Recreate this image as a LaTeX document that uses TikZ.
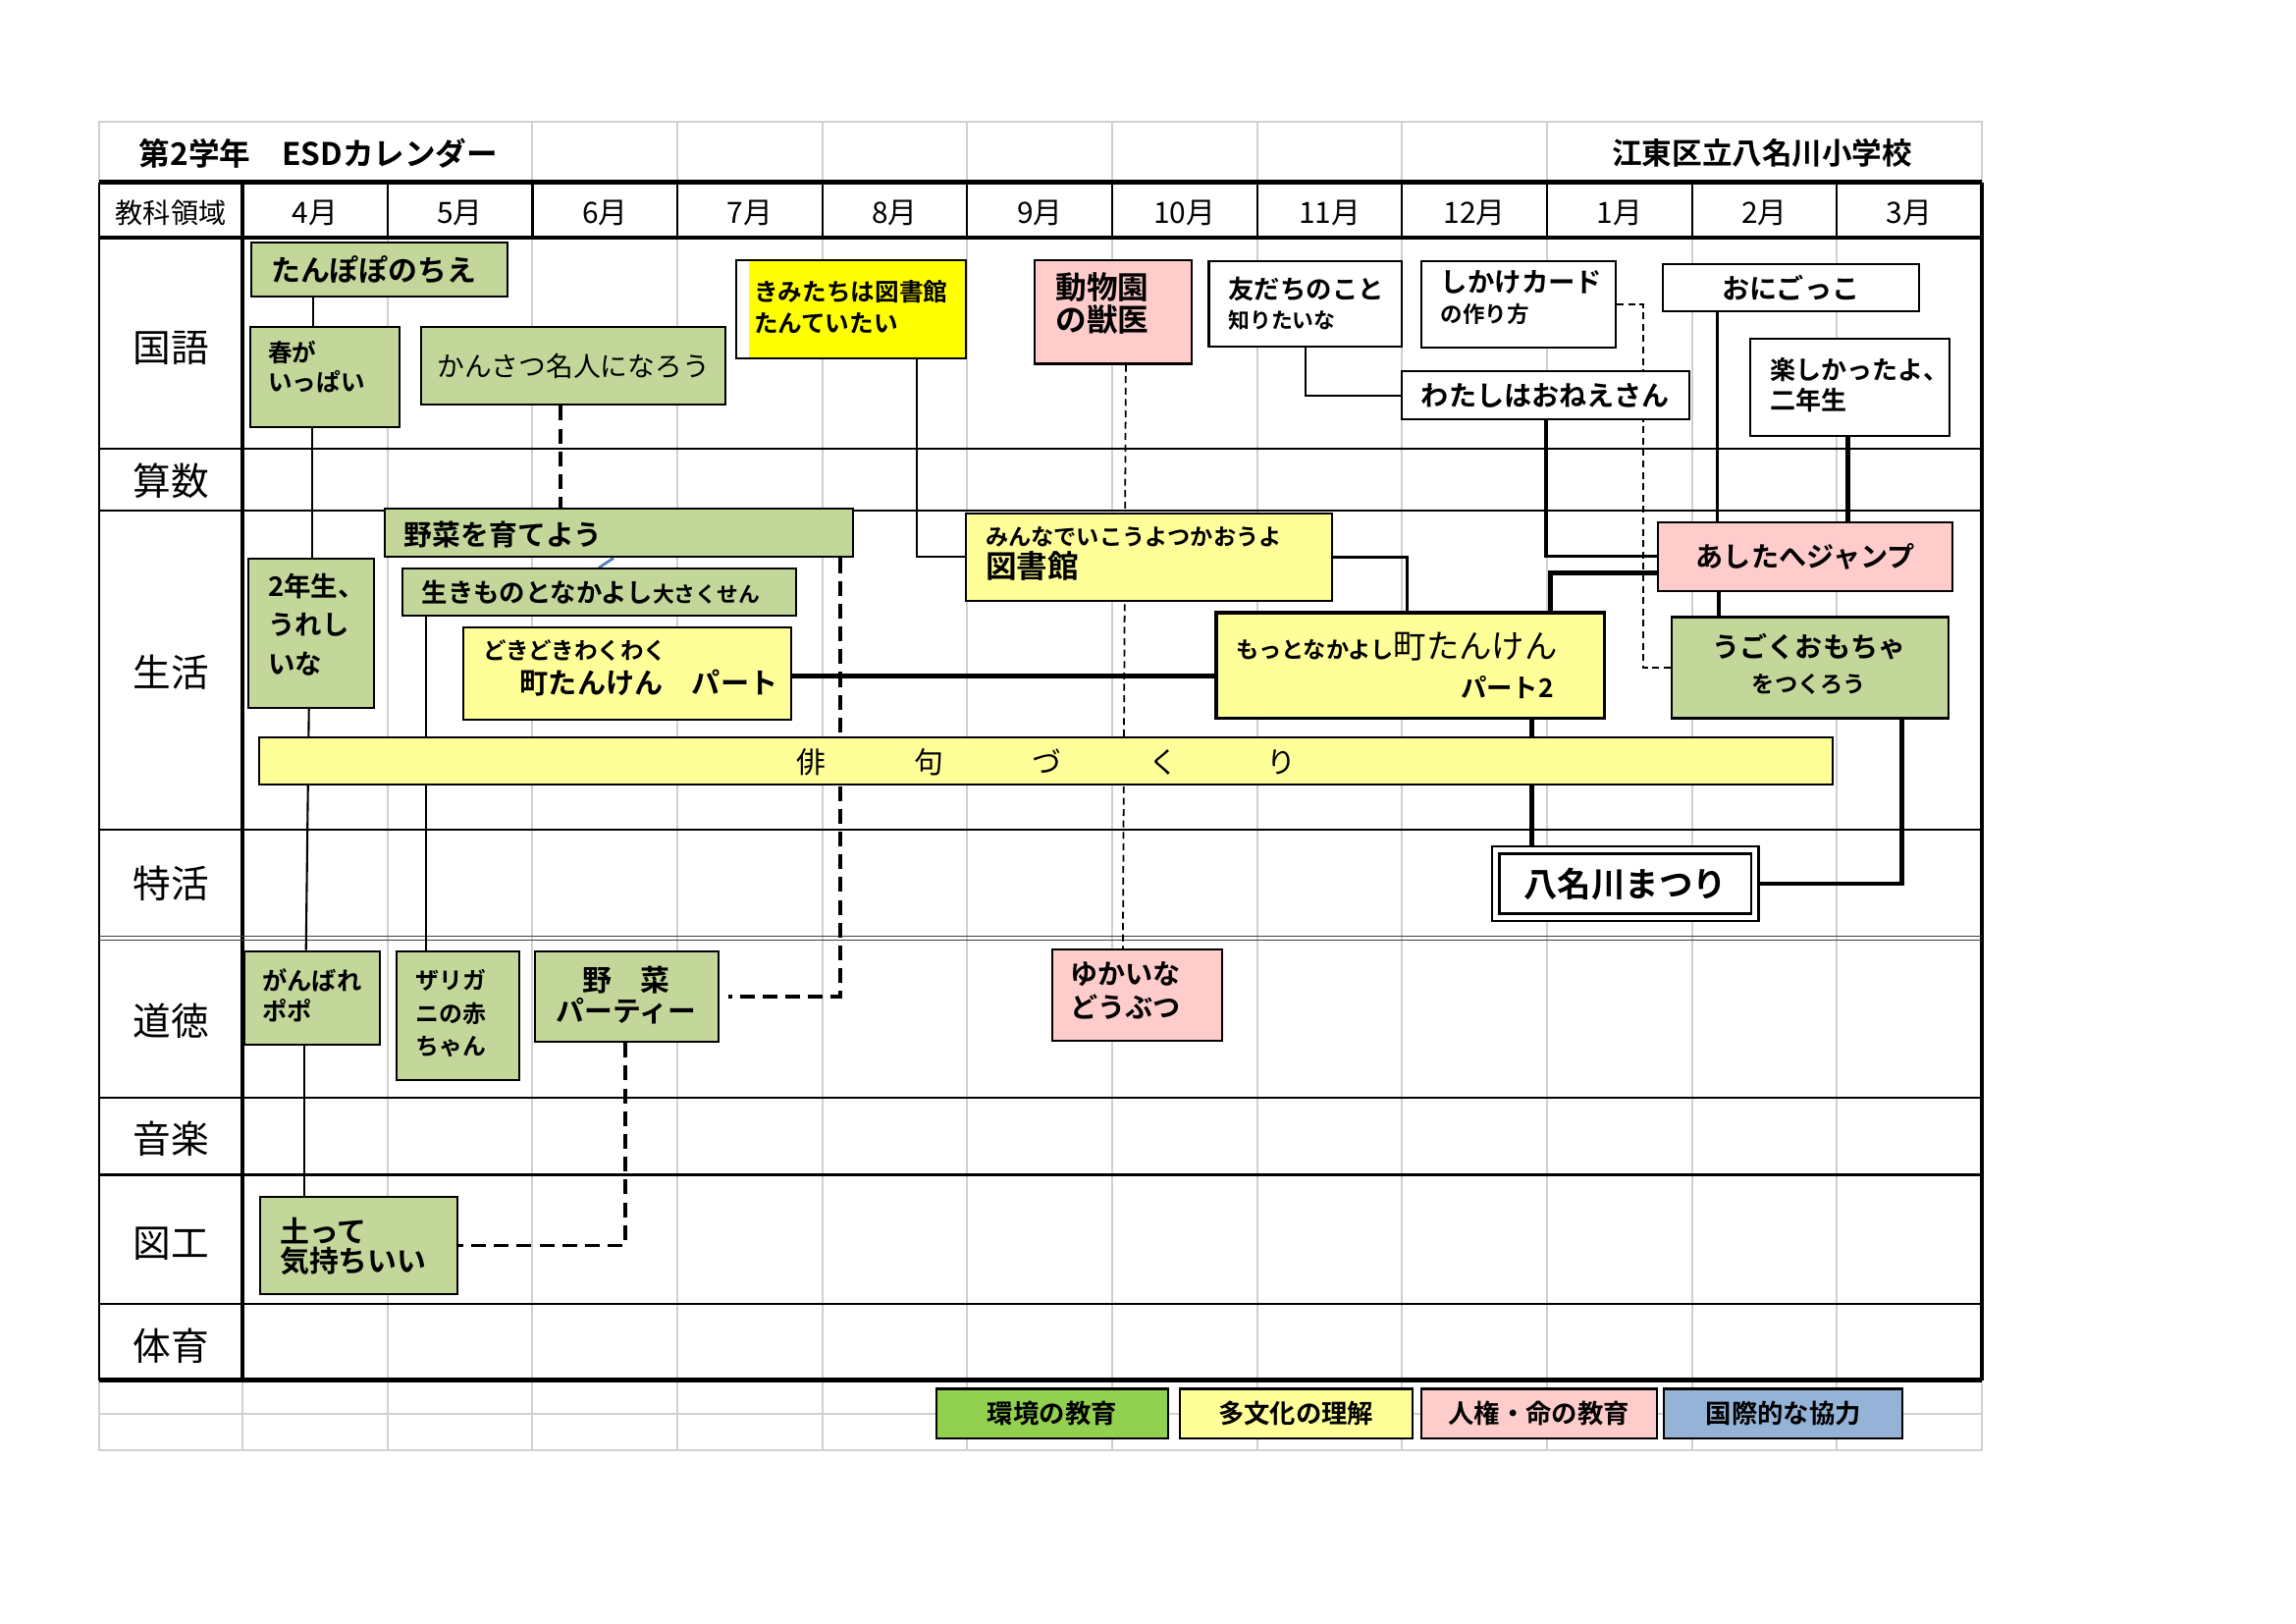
\documentclass[tikz,border=0pt]{standalone}
\usepackage{fontspec}
\setmainfont{Noto Sans CJK JP}[BoldFont={Noto Sans CJK JP Bold}]
\usetikzlibrary{fit,calc}
\definecolor{gr}{HTML}{C4D79B}
\definecolor{ye}{HTML}{FFFF99}
\definecolor{yy}{HTML}{FFFF00}
\definecolor{pk}{HTML}{FFCCCC}
\definecolor{lgreen}{HTML}{92D050}
\definecolor{lblue}{HTML}{95B3D7}
\definecolor{gridgray}{HTML}{D0D0D0}
\definecolor{bl}{HTML}{4F81BD}
\newcommand\fz[1]{\fontsize{#1}{#1}\selectfont}
\newcommand\bx[6]{\node[box,#6,fit={(#2,#3) (#4,#5)}] (#1) {};}
\begin{document}
\begin{tikzpicture}[x=0.014914cm,y=-0.014914cm,
  box/.style={draw,line width=0.6pt,inner sep=0pt},
  tx/.style={inner sep=0pt,font=\bfseries},
  gl/.style={draw=gridgray,line width=0.55pt},
  bthin/.style={line width=0.45pt},
  bthick/.style={line width=1.1pt},
  cthin/.style={line width=0.6pt},
  cmed/.style={line width=0.9pt},
  cthick/.style={line width=1.4pt},
  dthick/.style={line width=1pt,dash pattern=on 4.3pt off 2.3pt},
  dthin/.style={line width=0.5pt,dash pattern=on 2pt off 1.3pt}]
\useasboundingbox (0.28,-0.45) rectangle (1568.6,1108.2);
\fill[white] (0.28,-0.45) rectangle (1568.6,1108.2);
% ---------- grid ----------
\draw[gl] (68,83) rectangle (1354,990);
\foreach \k in {2,...,9} \draw[gl] ({166+99*\k},83) -- ({166+99*\k},124);
\foreach \k in {1,...,11} \draw[gl] ({166+99*\k},162) -- ({166+99*\k},990);
\draw[gl] (166,942) -- (166,990);
\draw[gl] (68,965) -- (1354,965);
\foreach \k in {1,...,11} \draw[line width=0.6pt] ({166+99*\k},124) -- ({166+99*\k},162);
\draw[line width=0.8pt] (68,124) -- (68,942);
\draw[bthick] (166,124) -- (166,942);
\draw[bthick] (1354,124) -- (1354,942);
\draw[line width=1.2pt] (68,124) -- (1354,124);
\draw[line width=1.2pt] (68,162) -- (1354,162);
\draw[bthin] (68,306) -- (1354,306);
\draw[line width=0.6pt] (68,348) -- (1354,348);
\draw[bthin] (68,566) -- (1354,566);
\draw[line width=0.4pt,black!75] (68,639) -- (1354,639);
\draw[line width=0.4pt,black!75] (68,641.5) -- (1354,641.5);
\draw[bthin] (68,749) -- (1354,749);
\draw[line width=0.9pt] (68,802) -- (1354,802);
\draw[line width=0.7pt] (68,890) -- (1354,890);
\draw[line width=1.3pt] (68,942) -- (1354,942);
% ---------- titles and headers ----------
\node[tx,anchor=west,font=\bfseries\fz{9}] (title) at (95,104) {第2学年　ESDカレンダー};
\node[tx,anchor=east,font=\bfseries\fz{8.7}] (school) at (1307,104) {江東区立八名川小学校};
\node[tx,font=\mdseries\fz{8}] (hd) at (117,145) {教科領域};
\foreach \m [count=\i from 0] in {4,5,6,7,8,9,10,11,12,1,2,3}
  \node[tx,font=\mdseries\fz{8.5}] (m\i) at ({215.5+99*\i},145) {\m 月};
\foreach \t/\y/\n in {国語/237/r1,算数/328/r2,生活/459/r3,特活/603/r4,道徳/697/r5,音楽/777/r6,図工/849/r7,体育/919/r8}
  \node[tx,font=\mdseries\fz{11}] (\n) at (117,\y) {\t};
% ---------- invisible placement nodes for connectors ----------
\begin{scope}[box/.append style={draw=none,fill=none}]
\bx{tanpopo}{172}{165}{347}{202}{}
\bx{haru}{171}{223}{273}{291}{}
\bx{kansatsu}{288}{223}{496}{276}{}
\bx{kimi}{503}{177}{660}{244}{}
\bx{doubutsu}{707}{177}{814}{248}{}
\bx{tomodachi}{826}{178}{958}{236}{}
\bx{shikake}{971}{178}{1104}{237}{}
\bx{oni}{1136}{180}{1311}{212}{}
\bx{wata}{958}{253}{1154}{286}{}
\bx{tanoshi}{1196}{231}{1332}{297}{}
\bx{yasai}{263}{347}{583}{380}{}
\bx{ikimono}{275}{388}{544}{420}{}
\bx{nensei}{170}{381}{256}{483}{}
\bx{doki}{317}{428}{541}{491}{}
\bx{minna}{660}{350}{910}{410}{}
\bx{motto}{831}{418}{1096}{490}{}
\bx{ashita}{1133}{356}{1334}{403}{}
\bx{ugoku}{1142}{421}{1331}{490}{}
\bx{haiku}{177}{503}{1252}{535}{}
\bx{matsuri}{1022}{580}{1199}{626}{}
\bx{ganbare}{167}{649}{260}{713}{}
\bx{zari}{271}{649}{355}{737}{}
\bx{yasaip}{366}{649}{491}{711}{}
\bx{yukai}{719}{648}{835}{710}{}
\bx{tsuchi}{178}{817}{313}{883}{}
\end{scope}
% ---------- connectors ----------
\draw[cthin] ($(tanpopo.south west)+(43,0)$) coordinate (a1) -- (a1 |- haru.north);
\draw[cthin] ($(haru.south west)+(43,0)$) coordinate (a2) -- (a2 |- nensei.north);
\draw[cthin] ($(nensei.south west)+(42,0)$) -- ($(ganbare.north west)+(43,0)$);
\draw[cthin] ($(ganbare.south west)+(42,0)$) coordinate (a4) -- (a4 |- tsuchi.north);
\draw[dthick] ($(kansatsu.south west)+(96,0)$) coordinate (a5) -- (a5 |- yasai.north);
\draw[line width=0.8pt,bl] ($(yasai.south west)+(157,0)$) -- ($(ikimono.north west)+(135,0)$);
\draw[cthin] ($(ikimono.south west)+(17,0)$) coordinate (a7) -- (a7 |- zari.north);
\draw[dthick] ($(yasai.south west)+(312,0)$) |- ($(yasaip.east)+(6,0)$);
\draw[dthick] ($(yasaip.south west)+(62,0)$) |- (tsuchi.east);
\draw[cthin] ($(kimi.south west)+(124,0)$) |- (minna.west);
\draw[dthin] ($(doubutsu.south west)+(63,0)$) -- ($(yukai.north west)+(49,0)$);
\draw[cthick] ($(doki.east)+(0,2)$) coordinate (a12) -- (a12 -| motto.west);
\draw[cmed] (minna.east) -| ($(motto.north west)+(131,0)$);
\draw[cthin] ($(tomodachi.south west)+(67,0)$) |- (wata.west);
\draw[dthin] (shikake.east) -- ++(18,0) |- (ugoku.west);
\draw[cmed] ($(wata.south west)+(99,0)$) |- (ashita.west);
\draw[cthick] ($(motto.north west)+(229,0)$) |- ($(ashita.west)+(0,11)$);
\draw[cthick] ($(motto.south west)+(216,0)$) coordinate (a18) -- (a18 |- matsuri.north);
\draw[cmed] ($(oni.south west)+(38,0)$) coordinate (a19) -- (a19 |- ashita.north);
\draw[cthick] ($(tanoshi.south west)+(67,0)$) coordinate (a20) -- (a20 |- ashita.north);
\draw[cmed] ($(ashita.south west)+(42,0)$) coordinate (a21) -- (a21 |- ugoku.north);
\draw[cthick] ($(ugoku.south west)+(158,0)$) |- (matsuri.east);
% ---------- visible boxes ----------
\fill[white] (503,177) rectangle (512,244);
\fill[yy] (512,177) rectangle (660,244);
\bx{kimiB}{503}{177}{660}{244}{}
\bx{tanpopoB}{172}{165}{347}{202}{fill=gr}
\bx{haruB}{171}{223}{273}{291}{fill=gr}
\bx{kansatsuB}{288}{223}{496}{276}{fill=gr}
\bx{doubutsuB}{707}{177}{814}{248}{fill=pk}
\bx{tomodachiB}{826}{178}{958}{236}{fill=white}
\bx{shikakeB}{971}{178}{1104}{237}{fill=white}
\bx{oniB}{1136}{180}{1311}{212}{fill=white}
\bx{wataB}{958}{253}{1154}{286}{fill=white}
\bx{tanoshiB}{1196}{231}{1332}{297}{fill=white}
\bx{yasaiB}{263}{347}{583}{380}{fill=gr}
\bx{ikimonoB}{275}{388}{544}{420}{fill=gr}
\bx{nenseiB}{170}{381}{256}{483}{fill=gr}
\bx{dokiB}{317}{428}{541}{491}{fill=ye}
\bx{minnaB}{660}{350}{910}{410}{fill=ye}
\bx{mottoB}{831}{418}{1096}{490}{fill=ye,line width=0.9pt}
\bx{ashitaB}{1133}{356}{1334}{403}{fill=pk}
\bx{ugokuB}{1142}{421}{1331}{490}{fill=gr}
\bx{haikuB}{177}{503}{1252}{535}{fill=ye}
\bx{matsuriB}{1022}{580}{1199}{626}{fill=white,double=white,double distance=1.4pt,line width=0.7pt}
\bx{ganbareB}{167}{649}{260}{713}{fill=gr}
\bx{zariB}{271}{649}{355}{737}{fill=gr}
\bx{yasaipB}{366}{649}{491}{711}{fill=gr}
\bx{yukaiB}{719}{648}{835}{710}{fill=pk}
\bx{tsuchiB}{178}{817}{313}{883}{fill=gr}
\bx{lg1}{640}{948}{798}{982}{fill=lgreen}
\bx{lg2}{806}{948}{965}{982}{fill=ye}
\bx{lg3}{971}{948}{1132}{982}{fill=pk}
\bx{lg4}{1137}{948}{1300}{982}{fill=lblue}
% ---------- box texts ----------
\node[tx,anchor=west,font=\bfseries\fz{8.5}] (tanpopo-t) at (185,184) {たんぽぽのちえ};
\node[tx,anchor=west,font=\bfseries\fz{7}] (haru-t1) at (183,240) {春が};
\node[tx,anchor=west,font=\bfseries\fz{7}] (haru-t2) at (183,260) {いっぱい};
\node[tx,font=\mdseries\fz{7.9}] (kansatsu-t) at (kansatsu) {かんさつ名人になろう};
\node[tx,anchor=west,font=\bfseries\fz{7}] (kimi-t1) at (515,199) {きみたちは図書館};
\node[tx,anchor=west,font=\bfseries\fz{7}] (kimi-t2) at (515,220) {たんていたい};
\node[tx,anchor=west,font=\bfseries\fz{9}] (doubutsu-t1) at (721,196) {動物園};
\node[tx,anchor=west,font=\bfseries\fz{9}] (doubutsu-t2) at (721,218) {の獣医};
\node[tx,anchor=west,font=\bfseries\fz{7.5}] (tomodachi-t1) at (839,197) {友だちのこと};
\node[tx,anchor=west,font=\bfseries\fz{6.2}] (tomodachi-t2) at (839,218) {知りたいな};
\node[tx,anchor=west,font=\bfseries\fz{7.8}] (shikake-t1) at (984,192) {しかけカード};
\node[tx,anchor=west,font=\bfseries\fz{6.4}] (shikake-t2) at (984,214) {の作り方};
\node[tx,font=\bfseries\fz{8}] (oni-t) at (oni) {おにごっこ};
\node[tx,font=\bfseries\fz{8}] (wata-t) at (wata) {わたしはおねえさん};
\node[tx,anchor=west,font=\bfseries\fz{7.4}] (tanoshi-t1) at (1209,252) {楽しかったよ、};
\node[tx,anchor=west,font=\bfseries\fz{7.4}] (tanoshi-t2) at (1209,273) {二年生};
\node[tx,anchor=west,font=\bfseries\fz{8.2}] (yasai-t) at (276,365) {野菜を育てよう};
\node[tx,anchor=west,font=\bfseries\fz{7.5}] (ikimono-t) at (288,404) {生きものとなかよし{\fz{6.2}大さくせん}};
\node[tx,anchor=west,font=\bfseries\fz{7.8}] (nensei-t1) at (183,400) {2年生、};
\node[tx,anchor=west,font=\bfseries\fz{7.8}] (nensei-t2) at (183,426) {うれし};
\node[tx,anchor=west,font=\bfseries\fz{7.8}] (nensei-t3) at (183,453) {いな};
\node[tx,anchor=west,font=\bfseries\fz{6.7}] (doki-t1) at (330,444) {どきどきわくわく};
\node[tx,anchor=west,font=\bfseries\fz{8.3}] (doki-t2) at (355,466) {町たんけん　パート};
\node[tx,anchor=west,font=\bfseries\fz{6.6}] (minna-t1) at (673,366) {みんなでいこうよつかおうよ};
\node[tx,anchor=west,font=\bfseries\fz{9}] (minna-t2) at (673,386) {図書館};
\node[tx,anchor=west,font=\bfseries\fz{6.6}] (motto-t1) at (844,441) {もっとなかよし{\mdseries\fz{9.5}町たんけん}};
\node[tx,anchor=east,font=\bfseries\fz{7.5}] (motto-t2) at (1062,469) {パート2};
\node[tx,font=\bfseries\fz{8}] (ashita-t) at (ashita) {あしたへジャンプ};
\node[tx,font=\bfseries\fz{8}] (ugoku-t1) at (1236,441) {うごくおもちゃ};
\node[tx,font=\bfseries\fz{6.6}] (ugoku-t2) at (1236,467) {をつくろう};
\node[tx,font=\mdseries\fz{8.5}] (haiku-t) at (715,520) {俳　　　句　　　づ　　　く　　　り};
\node[tx,font=\bfseries\fz{9.8}] (matsuri-t) at (matsuri) {八名川まつり};
\node[tx,anchor=west,font=\bfseries\fz{7.2}] (ganbare-t1) at (179,669) {がんばれ};
\node[tx,anchor=west,font=\bfseries\fz{7.2}] (ganbare-t2) at (179,690) {ポポ};
\node[tx,anchor=west,font=\bfseries\fz{6.8}] (zari-t1) at (284,669) {ザリガ};
\node[tx,anchor=west,font=\bfseries\fz{6.8}] (zari-t2) at (284,692) {ニの赤};
\node[tx,anchor=west,font=\bfseries\fz{6.8}] (zari-t3) at (284,714) {ちゃん};
\node[tx,font=\bfseries\fz{8.5}] (yasaip-t1) at (428,669) {野　菜};
\node[tx,font=\bfseries\fz{8.2}] (yasaip-t2) at (428,690) {パーティー};
\node[tx,anchor=west,font=\bfseries\fz{8}] (yukai-t1) at (731,665) {ゆかいな};
\node[tx,anchor=west,font=\bfseries\fz{8}] (yukai-t2) at (731,687) {どうぶつ};
\node[tx,anchor=west,font=\bfseries\fz{8.5}] (tsuchi-t1) at (191,840) {土って};
\node[tx,anchor=west,font=\bfseries\fz{8.5}] (tsuchi-t2) at (191,861) {気持ちいい};
\node[tx,font=\bfseries\fz{7.5}] (lg1-t) at (lg1) {環境の教育};
\node[tx,font=\bfseries\fz{7.5}] (lg2-t) at (lg2) {多文化の理解};
\node[tx,font=\bfseries\fz{7.5}] (lg3-t) at (lg3) {人権・命の教育};
\node[tx,font=\bfseries\fz{7.5}] (lg4-t) at (lg4) {国際的な協力};
\end{tikzpicture}
\end{document}
